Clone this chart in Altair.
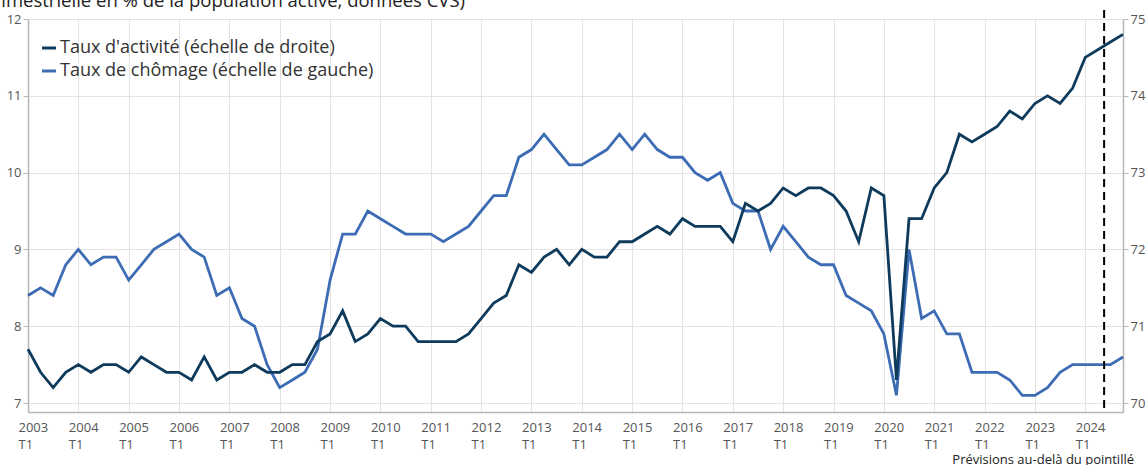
import altair as alt
import pandas as pd

# ---- Data (quarterly, 2003 T1 -> 2024 T4) ----
annees = list(range(2003, 2025))
trimestres = [f"{a} T{q}" for a in annees for q in range(1, 5)]

# Taux d'activité (% , right axis)
taux_activite = [
    70.7, 70.4, 70.2, 70.4, 70.5, 70.4, 70.5, 70.5, 70.4, 70.6,
    70.5, 70.4, 70.4, 70.3, 70.6, 70.3, 70.4, 70.4, 70.5, 70.4,
    70.4, 70.5, 70.5, 70.8, 70.9, 71.2, 70.8, 70.9, 71.1, 71.0,
    71.0, 70.8, 70.8, 70.8, 70.8, 70.9, 71.1, 71.3, 71.4, 71.8,
    71.7, 71.9, 72.0, 71.8, 72.0, 71.9, 71.9, 72.1, 72.1, 72.2,
    72.3, 72.2, 72.4, 72.3,
    72.3, 72.3, 72.1, 72.6, 72.5, 72.6, 72.8, 72.7, 72.8, 72.8,
    72.7, 72.5, 72.1, 72.8, 72.7, 70.3, 72.4, 72.4, 72.8, 73.0,
    73.5, 73.4, 73.5, 73.6, 73.8, 73.7, 73.9, 74.0, 73.9, 74.1,
    74.5, 74.6, 74.7, 74.8,
]

# Taux de chômage (%, left axis)
taux_chomage = [
    8.4, 8.5, 8.4, 8.8, 9.0, 8.8, 8.9, 8.9, 8.6, 8.8,
    9.0, 9.1, 9.2, 9.0, 8.9, 8.4, 8.5, 8.1, 8.0, 7.5,
    7.2, 7.3, 7.4, 7.7, 8.6, 9.2, 9.2, 9.5, 9.4, 9.3,
    9.2, 9.2, 9.2, 9.1, 9.2, 9.3, 9.5, 9.7, 9.7, 10.2,
    10.3, 10.5, 10.3, 10.1, 10.1, 10.2, 10.3, 10.5, 10.3, 10.5,
    10.3, 10.2, 10.2, 10.0,
    9.9, 10.0, 9.6, 9.5, 9.5, 9.0, 9.3, 9.1, 8.9, 8.8,
    8.8, 8.4, 8.3, 8.2, 7.9, 7.1, 9.0, 8.1, 8.2, 7.9,
    7.9, 7.4, 7.4, 7.4, 7.3, 7.1, 7.1, 7.2, 7.4, 7.5,
    7.5, 7.5, 7.5, 7.6,
]

debut_previsions = 85.5  # between 2024 T2 and 2024 T3

lab_act = "Taux d'activité (échelle de droite)"
lab_cho = "Taux de chômage (échelle de gauche)"
titre = "Taux de chômage et taux d'activité (trimestrielle en % de la population active, données CVS)"
note = "Prévisions au-delà du pointillé"

idx = list(range(len(trimestres)))
df = pd.concat([
    pd.DataFrame({"idx": idx, "trimestre": trimestres, "serie": lab_act, "valeur": taux_activite}),
    pd.DataFrame({"idx": idx, "trimestre": trimestres, "serie": lab_cho, "valeur": taux_chomage}),
])

W, H = 1095, 393
FONT = "Open Sans"
GRID = "#e3e3e3"
AXIS = "#b5b5b5"
LBL = "#555555"

x_enc = alt.X(
    "idx:Q",
    scale=alt.Scale(domain=[0, 87], nice=False, zero=False),
    axis=alt.Axis(
        values=list(range(0, 88, 4)),
        labelExpr="[toString(2003 + datum.value/4), 'T1']",
        grid=True, gridColor=GRID, gridWidth=1,
        ticks=False, domainColor=AXIS, domainWidth=1.5,
        labelAlign="left", labelOffset=-10, labelPadding=9,
        labelLineHeight=17, labelFontSize=13, labelColor=LBL, labelFont=FONT,
        labelFlush=False, labelOverlap=False, labelBound=False, title=None,
    ),
)

color_enc = alt.Color(
    "serie:N",
    scale=alt.Scale(domain=[lab_act, lab_cho], range=["#0e3a5c", "#3d6cb4"]),
    legend=alt.Legend(
        orient="none", legendX=12, legendY=20, title=None,
        symbolType="stroke", symbolSize=196, symbolStrokeWidth=3,
        labelFontSize=18, labelFont=FONT, labelColor="#333333", labelLimit=0,
        rowPadding=5, padding=0, labelOffset=2,
    ),
)

base = alt.Chart(df)

chomage = base.transform_filter(alt.datum.serie == lab_cho).mark_line(strokeWidth=2.8).encode(
    x=x_enc,
    y=alt.Y(
        "valeur:Q",
        scale=alt.Scale(domain=[6.883, 12], nice=False, zero=False),
        axis=alt.Axis(
            orient="left", values=[7, 8, 9, 10, 11, 12], grid=True, gridColor=GRID,
            tickColor=AXIS, tickSize=5, domainColor=AXIS, domainWidth=1.5,
            labelPadding=2, labelFontSize=13, labelColor=LBL, labelFont=FONT, title=None,
        ),
    ),
    color=color_enc,
)

activite = base.transform_filter(alt.datum.serie == lab_act).mark_line(strokeWidth=2.8).encode(
    x=x_enc,
    y=alt.Y(
        "valeur:Q",
        scale=alt.Scale(domain=[69.883, 75], nice=False, zero=False),
        axis=alt.Axis(
            orient="right", values=[70, 71, 72, 73, 74, 75], grid=False,
            tickColor=AXIS, tickSize=5, domainColor=AXIS, domainWidth=1.5,
            labelPadding=2, labelFontSize=13, labelColor=LBL, labelFont=FONT, title=None,
        ),
    ),
    color=color_enc,
)

regle = alt.Chart(pd.DataFrame({"d": [debut_previsions]})).mark_rule(
    color="black", strokeWidth=2, strokeDash=[8, 5]
).encode(x=alt.X("d:Q"), y=alt.value(-9), y2=alt.value(H))

titre_txt = alt.Chart(pd.DataFrame({"t": [titre]})).mark_text(
    align="right", baseline="alphabetic", fontSize=18.5, font=FONT, color="#222222"
).encode(x=alt.value(437), y=alt.value(-12), text="t:N")

note_txt = alt.Chart(pd.DataFrame({"t": [note]})).mark_text(
    align="right", baseline="alphabetic", fontSize=13, font=FONT, color="#222222"
).encode(x=alt.value(1106), y=alt.value(H + 52), text="t:N")

chart = (
    alt.layer(chomage, activite, regle, titre_txt, note_txt)
    .resolve_scale(y="independent")
    .properties(
        width=W, height=H,
        autosize=alt.AutoSizeParams(type="none"),
        padding={"left": 28, "top": 19, "right": 23, "bottom": 53},
    )
    .configure_view(stroke=None)
)

chart.save("out.html", embed_options={"renderer": "svg", "actions": False})
